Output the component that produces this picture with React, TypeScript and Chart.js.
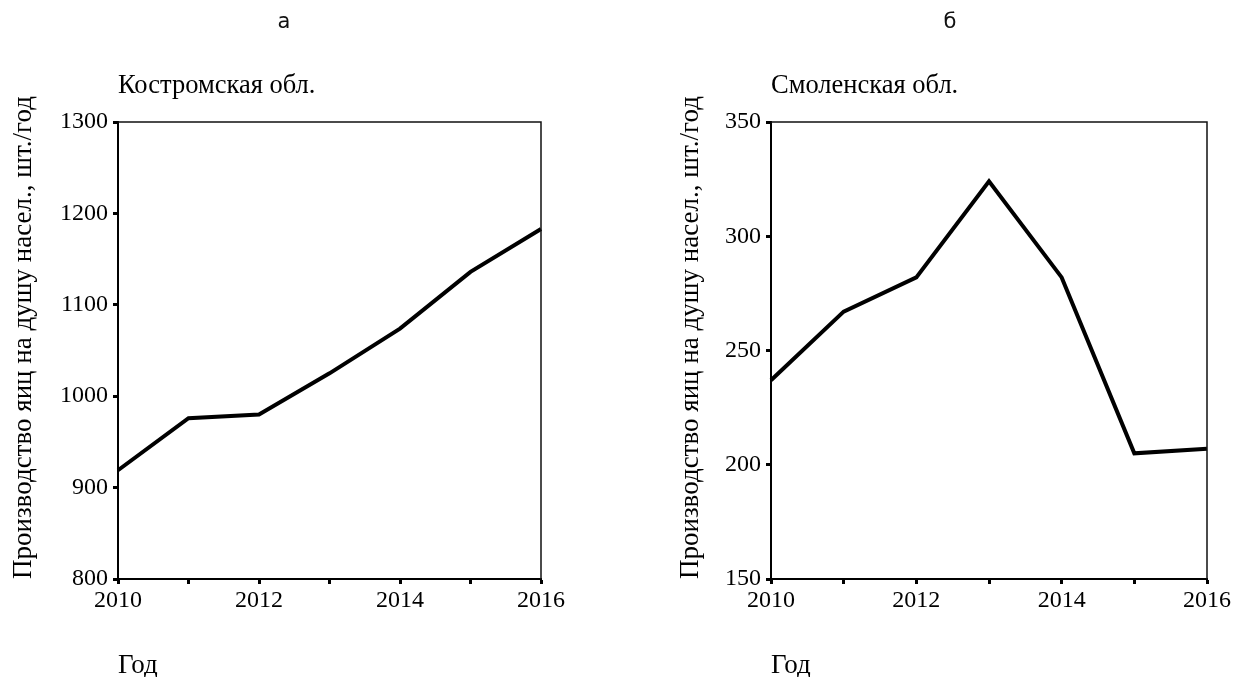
import React, { useEffect, useRef } from 'react';
import { Chart, registerables } from 'chart.js';

Chart.register(...registerables);

const years = ['2010', '2011', '2012', '2013', '2014', '2015', '2016'];
const kostromaValues = [919, 976, 980, 1025, 1074, 1136, 1183];
const smolenskValues = [237, 267, 282, 324, 282, 205, 207];
const kostromaRange = [800, 1300, 100];
const smolenskRange = [150, 350, 50];
const regionNames = ['Костромская обл.', 'Смоленская обл.'];
const panelLetters = ['а', 'б'];
const yTitle = 'Производство яиц на душу насел., шт./год';
const xTitle = 'Год';

const SERIF = "'Liberation Serif', 'Times New Roman', serif";

const framePlugin = {
  id: 'frame',
  afterDraw(chart: any) {
    const { ctx, chartArea } = chart;
    const { left, right, top, bottom } = chartArea;
    ctx.save();
    ctx.strokeStyle = '#111';
    ctx.lineWidth = 1.5;
    ctx.beginPath();
    ctx.moveTo(left, top);
    ctx.lineTo(right, top);
    ctx.lineTo(right, bottom);
    ctx.stroke();
    ctx.restore();
  },
};

function makeConfig(values: number[], range: number[], region: string, yWidth: number, padRight: number, yTitlePad: number): any {
  return {
    type: 'line',
    data: {
      labels: years,
      datasets: [
        {
          data: values,
          borderColor: '#000',
          borderWidth: 4,
          pointRadius: 0,
          tension: 0,
          fill: false,
        },
      ],
    },
    plugins: [framePlugin],
    options: {
      animation: false,
      responsive: false,
      devicePixelRatio: 1,
      layout: { padding: { top: 70, right: padRight, bottom: 0, left: 0 } },
      plugins: {
        legend: { display: false },
        tooltip: { enabled: false },
        title: {
          display: true,
          text: region,
          align: 'start',
          fullSize: false,
          color: '#000',
          font: { family: SERIF, size: 26.5, weight: 'normal', lineHeight: 1.2 },
          padding: { top: 0, bottom: 20.2 },
        },
      },
      scales: {
        x: {
          type: 'category',
          offset: false,
          grid: {
            display: true,
            drawOnChartArea: false,
            drawTicks: true,
            tickLength: 5,
            tickWidth: 3,
            tickColor: '#000',
          },
          border: { display: true, color: '#000', width: 2 },
          ticks: {
            autoSkip: false,
            maxRotation: 0,
            padding: 2,
            color: '#000',
            font: { family: SERIF, size: 24 },
            callback: (_v: any, i: number) => (i % 2 === 0 ? years[i] : ''),
          },
          title: {
            display: true,
            text: xTitle,
            align: 'start',
            color: '#000',
            font: { family: SERIF, size: 27, lineHeight: 0.8 },
            padding: { top: 0, bottom: 0 },
          },
          afterFit: (scale: any) => {
            scale.height = 98;
          },
        },
        y: {
          type: 'linear',
          min: range[0],
          max: range[1],
          grid: {
            display: true,
            drawOnChartArea: false,
            drawTicks: true,
            tickLength: 5,
            tickWidth: 3,
            tickColor: '#000',
          },
          border: { display: true, color: '#000', width: 2 },
          ticks: {
            stepSize: range[2],
            padding: 5,
            color: '#000',
            font: { family: SERIF, size: 24 },
            callback: (v: any) => String(v),
          },
          title: {
            display: true,
            text: yTitle,
            align: 'start',
            color: '#000',
            font: { family: SERIF, size: 27, lineHeight: 1.2 },
            padding: { top: yTitlePad, bottom: 0 },
          },
          afterFit: (scale: any) => {
            scale.width = yWidth;
          },
        },
      },
    },
  };
}

function Panel(props: { values: number[]; range: number[]; region: string; yWidth: number; padRight: number; yTitlePad: number; left: number }) {
  const ref = useRef<HTMLCanvasElement | null>(null);
  useEffect(() => {
    if (!ref.current) return;
    const chart = new Chart(
      ref.current,
      makeConfig(props.values, props.range, props.region, props.yWidth, props.padRight, props.yTitlePad)
    );
    return () => chart.destroy();
  }, []);
  return (
    <canvas
      ref={ref}
      width={620}
      height={677}
      style={{ position: 'absolute', left: props.left, top: 0, width: 620, height: 677 }}
    />
  );
}

export default function App() {
  const letterStyle: React.CSSProperties = {
    position: 'absolute',
    top: 11,
    width: 60,
    textAlign: 'center',
    fontFamily: "'DejaVu Sans', sans-serif",
    fontSize: 21,
    lineHeight: '21px',
    color: '#111',
  };
  return (
    <div style={{ position: 'absolute', left: 0, top: 0, width: 1240, height: 677, background: '#fff', overflow: 'hidden' }}>
      <Panel values={kostromaValues} range={kostromaRange} region={regionNames[0]} yWidth={118} padRight={79} yTitlePad={8} left={0} />
      <Panel values={smolenskValues} range={smolenskRange} region={regionNames[1]} yWidth={151} padRight={33} yTitlePad={55} left={620} />
      <div style={{ ...letterStyle, left: 284 - 30 }}>{panelLetters[0]}</div>
      <div style={{ ...letterStyle, left: 950 - 30 }}>{panelLetters[1]}</div>
    </div>
  );
}
